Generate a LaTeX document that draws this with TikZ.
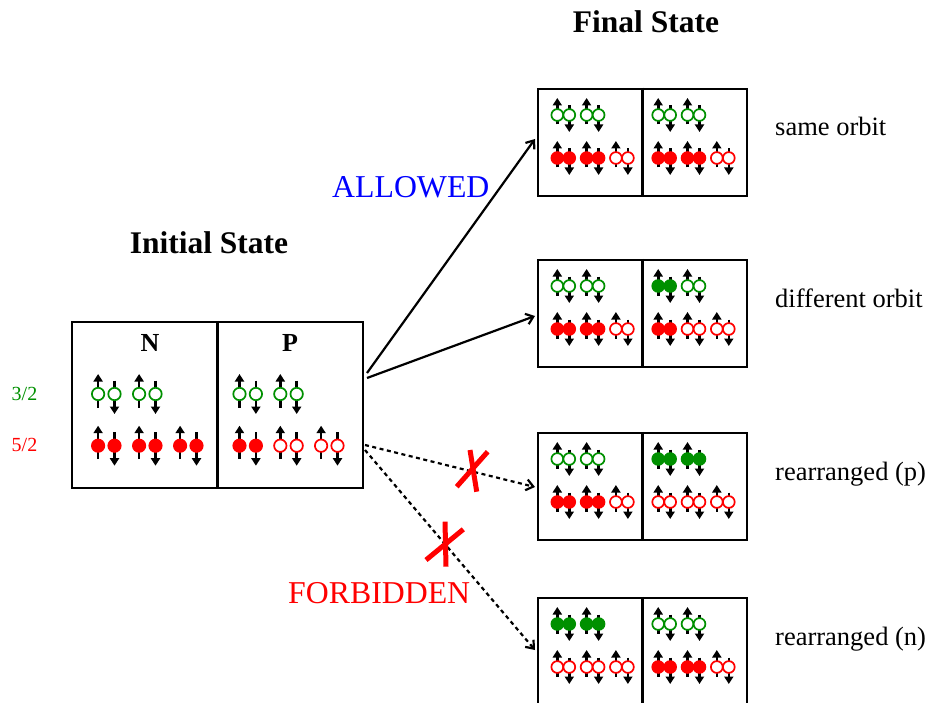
\documentclass[tikz,border=0pt]{standalone}
\usepackage{fontspec}
\setmainfont{Liberation Serif}
\usetikzlibrary{arrows.meta}

\definecolor{shellgreen}{RGB}{0,144,0}
\definecolor{shellred}{RGB}{255,0,0}

% One pair of nucleons in an orbit: spin-up on the left, spin-down on the right.
% #1,#2 centre of the pair; #3 outline colour; #4 fill colour;
% #5 half distance of the two centres; #6 radius;
% #7 tail length; #8 tip length of the spin arrows
\newcommand{\spinpair}[8]{%
  \draw[spinarrow] (#1-#5,#2+#7) -- (#1-#5,#2-#8);
  \draw[spinarrow] (#1+#5,#2-#7) -- (#1+#5,#2+#8);
  \draw[line width=1.7pt,draw=#3,fill=#4] (#1-#5,#2) circle[radius=#6];
  \draw[line width=1.7pt,draw=#3,fill=#4] (#1+#5,#2) circle[radius=#6];
}
% large pairs (initial state) and small pairs (final states)
\newcommand{\bigpair}[4]{\spinpair{#1}{#2}{#3}{#4}{8.2}{6.2}{13.5}{20}}
\newcommand{\smallpair}[4]{\spinpair{#1}{#2}{#3}{#4}{6}{5.9}{9.5}{17}}

% the four rows of a final-state box: #1 left edge, #2 top edge,
% then the fills of the N green, N red, P green and P red pairs as lists
\newcommand{\finalrows}[6]{%
  \foreach \f [count=\i from 0] in {#3} {\smallpair{#1+25.3+29.3*\i}{#2+26}{shellgreen}{\f}}
  \foreach \f [count=\i from 0] in {#4} {\smallpair{#1+25.3+29.3*\i}{#2+69}{shellred}{\f}}
  \foreach \f [count=\i from 0] in {#5} {\smallpair{#1+126.2+29.3*\i}{#2+26}{shellgreen}{\f}}
  \foreach \f [count=\i from 0] in {#6} {\smallpair{#1+126.2+29.3*\i}{#2+69}{shellred}{\f}}
}

\tikzset{
  spinarrow/.style={line width=2.6pt,-{Triangle[width=9pt,length=7.5pt]}},
  initbox/.style={draw,line width=2.5pt,inner sep=0pt,minimum width=291pt,minimum height=166pt},
  finalbox/.style={draw,line width=2.5pt,inner sep=0pt,minimum width=209pt,minimum height=107pt},
  divider/.style={line width=2.5pt},
  allowed/.style={line width=2.2pt,-{Straight Barb[length=7pt,width=11pt]}},
  forbidden/.style={line width=2.2pt,dash pattern=on 4pt off 3.5pt,-{Straight Barb[length=7pt,width=11pt]}},
  cross/.style={line width=5pt,draw=shellred},
  title/.style={inner sep=0pt,anchor=base,font=\fontsize{31.5}{36}\selectfont\bfseries},
  side/.style={inner sep=0pt,anchor=base west,font=\fontsize{26.5}{32}\selectfont},
  verdict/.style={inner sep=0pt,anchor=base west,font=\fontsize{31.8}{38}\selectfont},
  level/.style={inner sep=0pt,anchor=base west,font=\fontsize{20}{24}\selectfont},
  nucleon/.style={inner sep=0pt,anchor=base,font=\fontsize{26}{30}\selectfont\bfseries},
}

\begin{document}
\begin{tikzpicture}[x=1pt,y=-1pt]
\useasboundingbox (0,0) rectangle (928,703);

% titles
\node[title] (tinit) at (209,253) {Initial State};
\node[title] (tfinal) at (646,33) {Final State};

% initial state
\node[initbox] (init) at (217.5,405) {};
\draw[divider] (init.north) -- (init.south);
\node[nucleon] (lN) at (150,351) {N};
\node[nucleon] (lP) at (290,351) {P};
\node[level,text=shellgreen] (l32) at (11.5,400) {3/2};
\node[level,text=shellred] (l52) at (11.5,451) {5/2};
\foreach \x in {106.3,147.3} {\bigpair{\x}{394}{shellgreen}{white}}
\foreach \x in {106.3,147.3,188.3} {\bigpair{\x}{445.7}{shellred}{shellred}}
\foreach \x in {247.7,288.5} {\bigpair{\x}{394}{shellgreen}{white}}
\bigpair{247.7}{445.7}{shellred}{shellred}
\foreach \x in {288.5,329.3} {\bigpair{\x}{445.7}{shellred}{white}}

% final states
\node[finalbox] (f1) at (642.5,142.5) {};
\node[finalbox] (f2) at (642.5,313.5) {};
\node[finalbox] (f3) at (642.5,486.5) {};
\node[finalbox] (f4) at (642.5,651.5) {};
\foreach \b in {f1,f2,f3,f4} {\draw[divider] (\b.north) -- (\b.south);}

\finalrows{538}{89}{white,white}{shellred,shellred,white}{white,white}{shellred,shellred,white}
\finalrows{538}{260}{white,white}{shellred,shellred,white}{shellgreen,white}{shellred,white,white}
\finalrows{538}{433}{white,white}{shellred,shellred,white}{shellgreen,shellgreen}{white,white,white}
\finalrows{538}{598}{shellgreen,shellgreen}{white,white,white}{white,white}{shellred,shellred,white}

\node[side] (s1) at (775,136) {same orbit};
\node[side] (s2) at (775,307) {different orbit};
\node[side] (s3) at (775,480) {rearranged (p)};
\node[side] (s4) at (775,645) {rearranged (n)};

% transitions
\coordinate (o1) at (367,373);
\coordinate (o2) at (367,378);
\coordinate (o3) at (365,445);
\coordinate (o4) at (365,450);
\coordinate (e1) at (535,139);
\coordinate (e2) at (535,316);
\coordinate (e3) at (535,487);
\coordinate (e4) at (535,650);
\draw[allowed] (o1) -- (e1);
\draw[allowed] (o2) -- (e2);
\draw[forbidden] (o3) -- (e3);
\draw[forbidden] (o4) -- (e4);

\node[verdict,text=blue] (vallow) at (332,198) {ALLOWED};
\node[verdict,text=shellred] (vforb) at (288,603) {FORBIDDEN};

% crossed-out transitions
\draw[cross] (456.7,486.7) -- (487.7,451.7);
\draw[cross] (470,450) -- (476.7,491.7);
\draw[cross] (426,560) -- (463.3,529.3);
\draw[cross] (445,521.7) -- (446,566.7);
\end{tikzpicture}
\end{document}
